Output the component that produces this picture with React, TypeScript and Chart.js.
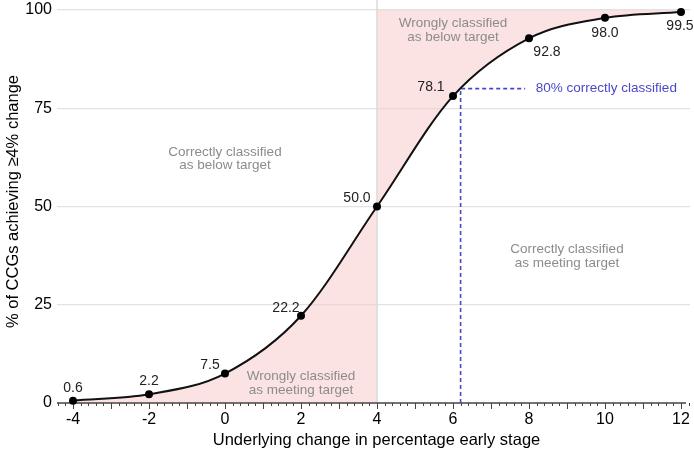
import React, { useEffect, useRef } from 'react';
import { Chart, registerables } from 'chart.js';

// ---- data ----
const xValues = [-4, -2, 0, 2, 4, 6, 8, 10, 12];
const pctValues = [0.6, 2.2, 7.5, 22.2, 50.0, 78.1, 92.8, 98.0, 99.5];
const pointLabels = ['0.6', '2.2', '7.5', '22.2', '50.0', '78.1', '92.8', '98.0', '99.5'];
const xTickValues = [-4, -2, 0, 2, 4, 6, 8, 10, 12];
const yTickValues = [0, 25, 50, 75, 100];
const thresholdX = 4;
const cutoffX = 6.2;
const cutoffPct = 80;
const cutoffLineEndX = 7.9;
const cutoffLabelX = 8.18;
const cutoffLabel = '80% correctly classified';
const regionTexts = [
  ['Correctly classified', 'as below target'],
  ['Wrongly classified', 'as below target'],
  ['Correctly classified', 'as meeting target'],
  ['Wrongly classified', 'as meeting target'],
];
const regionX = [0, 6, 9, 2];
const regionY = [62.2, 94.9, 37.3, 5.0];
const xTitle = 'Underlying change in percentage early stage';
const yTitle = '% of CCGs achieving \u22654% change';

// ---- layout / style ----
const xMin = -4.421;
const xMax = 12.237;
const FONT = '"Liberation Sans", Arial, sans-serif';
const labelOffsets: [number, number][] = [
  [0, -13], [0, -13], [-15, -8], [-15, -8], [-20, -8], [-22, -9], [18, 14], [0, 15], [-1, 14],
];

const regionClipPlugin = {
  id: 'regionClip',
  beforeDatasetDraw(chart: any, args: any) {
    const ds = chart.data.datasets[args.index];
    if (!ds || !ds.clipSide) return;
    const { ctx, chartArea } = chart;
    const px = chart.scales.x.getPixelForValue(thresholdX);
    ctx.save();
    ctx.beginPath();
    if (ds.clipSide === 'left') {
      ctx.rect(chartArea.left, chartArea.top - 2, px - chartArea.left, chartArea.height + 4);
    } else {
      ctx.rect(px, chartArea.top - 2, chartArea.right - px, chartArea.height + 4);
    }
    ctx.clip();
  },
  afterDatasetDraw(chart: any, args: any) {
    const ds = chart.data.datasets[args.index];
    if (!ds || !ds.clipSide) return;
    chart.ctx.restore();
  },
};

Chart.register(regionClipPlugin as any);
Chart.register(...registerables);

const overlayPlugin = {
  id: 'overlay',
  beforeDatasetDraw(chart: any, args: any) {
    if (args.index !== 1) return;
    const { ctx, chartArea } = chart;
    const xs = chart.scales.x;
    const px = xs.getPixelForValue(thresholdX);
    ctx.save();
    ctx.strokeStyle = '#dadada';
    ctx.lineWidth = 1.5;
    ctx.beginPath();
    ctx.moveTo(px, 0);
    ctx.lineTo(px, chartArea.bottom);
    ctx.stroke();
    // axis line at y = 0
    ctx.strokeStyle = '#444';
    ctx.lineWidth = 1.5;
    ctx.beginPath();
    ctx.moveTo(chartArea.left, chartArea.bottom);
    ctx.lineTo(chartArea.right - 4, chartArea.bottom);
    ctx.stroke();
    // tick marks
    ctx.lineWidth = 1;
    ctx.strokeStyle = '#444';
    for (let i = Math.ceil(xMin * 5); i <= Math.floor(xMax * 5); i++) {
      const v = i / 5;
      const p = Math.round(xs.getPixelForValue(v)) + 0.5;
      const len = i % 5 === 0 ? 6 : 3;
      ctx.beginPath();
      ctx.moveTo(p, chartArea.bottom);
      ctx.lineTo(p, chartArea.bottom + len);
      ctx.stroke();
    }
    ctx.restore();
  },
  afterDatasetsDraw(chart: any) {
    const { ctx, chartArea } = chart;
    const xs = chart.scales.x;
    const ys = chart.scales.y;
    ctx.save();
    // point labels
    ctx.font = `14px ${FONT}`;
    ctx.fillStyle = '#222';
    ctx.textAlign = 'center';
    ctx.textBaseline = 'middle';
    xValues.forEach((x, i) => {
      const px = xs.getPixelForValue(x) + labelOffsets[i][0];
      const py = ys.getPixelForValue(pctValues[i]) + labelOffsets[i][1];
      ctx.fillText(pointLabels[i], px, py);
    });
    // region texts
    ctx.font = `13.5px ${FONT}`;
    ctx.fillStyle = '#8c8c8c';
    regionTexts.forEach((lines, i) => {
      const px = xs.getPixelForValue(regionX[i]);
      const py = ys.getPixelForValue(regionY[i]);
      ctx.fillText(lines[0], px, py - 6.75);
      ctx.fillText(lines[1], px, py + 6.75);
    });
    // cutoff label
    ctx.fillStyle = '#4a48c8';
    ctx.textAlign = 'left';
    ctx.fillText(cutoffLabel, xs.getPixelForValue(cutoffLabelX), ys.getPixelForValue(cutoffPct));
    // titles
    ctx.fillStyle = '#000';
    ctx.font = `16.5px ${FONT}`;
    ctx.textAlign = 'center';
    ctx.fillText(xTitle, (chartArea.left + chartArea.right) / 2 + 3, 440);
    ctx.translate(13, (chartArea.top + chartArea.bottom) / 2 - 5);
    ctx.rotate(-Math.PI / 2);
    ctx.fillText(yTitle, 0, 0);
    ctx.restore();
  },
};

export default function App() {
  const ref = useRef<HTMLCanvasElement>(null);
  useEffect(() => {
    const canvas = ref.current!;
    const curveData = xValues.map((x, i) => ({ x, y: pctValues[i] }));
    const chart = new Chart(canvas, {
      type: 'line',
      data: {
        datasets: [
          {
            label: 'curve',
            data: curveData,
            borderColor: '#111',
            borderWidth: 2,
            pointRadius: 4,
            pointBackgroundColor: '#000',
            pointBorderColor: '#000',
            pointBorderWidth: 0,
            cubicInterpolationMode: 'monotone',
            fill: false,
            clip: false,
          } as any,
          {
            label: 'cutoff',
            data: [
              { x: cutoffX, y: 0 },
              { x: cutoffX, y: cutoffPct },
              { x: cutoffLineEndX, y: cutoffPct },
            ],
            borderColor: '#4a48c8',
            borderWidth: 1.6,
            borderDash: [4, 3],
            pointRadius: 0,
            tension: 0,
            fill: false,
          } as any,
          {
            label: 'wrongMeeting',
            data: curveData,
            borderWidth: 0,
            borderColor: 'rgba(0,0,0,0)',
            pointRadius: 0,
            cubicInterpolationMode: 'monotone',
            fill: 'origin',
            backgroundColor: 'rgba(250,200,200,0.5)',
            clipSide: 'left',
          } as any,
          {
            label: 'wrongBelow',
            data: curveData,
            borderWidth: 0,
            borderColor: 'rgba(0,0,0,0)',
            pointRadius: 0,
            cubicInterpolationMode: 'monotone',
            fill: 'end',
            backgroundColor: 'rgba(250,200,200,0.5)',
            clipSide: 'right',
          } as any,
        ],
      },
      options: {
        responsive: false,
        animation: false,
        events: [],
        layout: { padding: { top: 10, right: 4, left: 0, bottom: 0 } },
        plugins: { legend: { display: false }, tooltip: { enabled: false } },
        scales: {
          x: {
            type: 'linear',
            min: xMin,
            max: xMax,
            afterBuildTicks: (s: any) => {
              s.ticks = xTickValues.map((v) => ({ value: v }));
            },
            afterFit: (s: any) => {
              s.height = 46;
            },
            grid: { display: false, drawTicks: false },
            border: { display: false },
            ticks: {
              font: { size: 16, family: FONT, lineHeight: 2.1 },
              color: '#000',
              padding: 0,
              maxRotation: 0,
              autoSkip: false,
            },
          },
          y: {
            min: 0,
            max: 100,
            afterBuildTicks: (s: any) => {
              s.ticks = yTickValues.map((v) => ({ value: v }));
            },
            afterFit: (s: any) => {
              s.width = 57;
            },
            grid: {
              color: (c: any) => (c.tick && c.tick.value === 0 ? 'rgba(0,0,0,0)' : '#e2e2e2'),
              lineWidth: 1.3,
              drawTicks: false,
            },
            border: { display: false },
            ticks: {
              font: { size: 16, family: FONT, lineHeight: 0.6 },
              color: '#000',
              padding: 5,
            },
          },
        },
      },
      plugins: [overlayPlugin as any],
    });
    return () => chart.destroy();
  }, []);
  return (
    <div style={{ position: 'absolute', left: 0, top: 0, width: 694, height: 449, background: '#fff' }}>
      <canvas ref={ref} width={694} height={449} style={{ display: 'block' }} />
    </div>
  );
}
